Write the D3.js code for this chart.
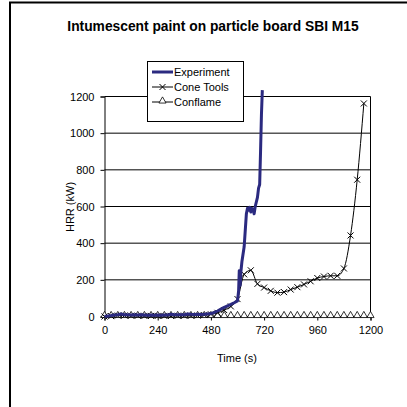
<!DOCTYPE html>
<html>
<head>
<meta charset="utf-8">
<script src="https://cdn.jsdelivr.net/npm/d3@7/dist/d3.min.js"></script>
<style>
  html, body { margin: 0; padding: 0; background: #fff; }
  svg { display: block; font-family: "Liberation Sans", Arial, sans-serif; }
</style>
</head>
<body>
<svg id="chart" width="407" height="407"></svg>
<script>
// Heat release rate, intumescent paint on particle board (SBI test M15)
const chartTitle = "Intumescent paint on particle board SBI M15";
const xTicks = [0, 240, 480, 720, 960, 1200];
const yTicks = [0, 200, 400, 600, 800, 1000, 1200];

// Measured HRR (kW) vs time (s)
const expTime = [0, 15, 30, 45, 60, 75, 90, 105, 120, 135, 150, 165, 180, 195, 210, 225, 240, 255, 270, 285,
  300, 315, 330, 345, 360, 375, 390, 405, 420, 435, 450, 465, 480, 495, 510, 525, 540, 555, 570, 585,
  600, 605, 608, 612, 615, 620, 630, 640, 645, 650, 655, 660, 665, 670, 675, 680, 690, 695, 700, 704, 708, 712];
const expHRR = [0, 3, 5, 8, 10, 14, 10, 9, 8, 9, 8, 9, 8, 7, 8, 7, 8, 7, 8, 8,
  12, 10, 9, 10, 10, 14, 12, 11, 12, 11, 12, 14, 16, 22, 30, 40, 50, 58, 66, 75,
  85, 140, 250, 170, 240, 300, 380, 560, 590, 580, 595, 570, 590, 585, 560, 600, 650, 700, 720, 900, 1100, 1235];

// Cone Tools prediction
const coneTime = [0, 30, 60, 90, 120, 150, 180, 210, 240, 270, 300, 330, 360, 390, 420, 450, 480, 510, 540, 570,
  600, 630, 660, 690, 720, 750, 780, 810, 840, 870, 900, 930, 960, 990, 1020, 1050, 1080, 1110, 1140, 1170];
const coneHRR = [0, 2, 5, 5, 4, 4, 3, 3, 3, 3, 3, 4, 4, 4, 5, 8, 12, 20, 35, 55,
  95, 230, 252, 178, 158, 140, 130, 133, 147, 160, 175, 192, 210, 218, 222, 222, 262, 442, 746, 1162];

// Conflame prediction
const flameTime = d3.range(0, 1201, 30);
const flameHRR = flameTime.map(() => 0);

const svg = d3.select("#chart");

// outer chart frame
svg.append("rect").attr("x", 10).attr("y", 2.5).attr("width", 420).attr("height", 420)
  .attr("fill", "none").attr("stroke", "#000").attr("stroke-width", 2);

const x = d3.scaleLinear().domain([0, 1200]).range([104.5, 370.5]);
const y = d3.scaleLinear().domain([0, 1200]).range([316.5, 96.5]);

// title
svg.append("text").attr("x", 213).attr("y", 31).attr("text-anchor", "middle")
  .attr("font-size", 13.8).attr("font-weight", "bold").text(chartTitle);

// gridlines
svg.append("g").selectAll("line").data(yTicks.filter(d => d > 0)).join("line")
  .attr("x1", x(0)).attr("x2", x(1200)).attr("y1", d => y(d)).attr("y2", d => y(d))
  .attr("stroke", "#000").attr("stroke-width", 1);

// right border of plot area
svg.append("line").attr("x1", x(1200)).attr("x2", x(1200)).attr("y1", y(1200)).attr("y2", y(0))
  .attr("stroke", "#000").attr("stroke-width", 1);

// axes
const fmt = d3.format("d");
const yAxis = svg.append("g").attr("transform", `translate(${x(0)},0)`)
  .call(d3.axisLeft(y).tickValues(yTicks).tickFormat(fmt).tickSize(4).tickPadding(6));
const xAxis = svg.append("g").attr("transform", `translate(0,${y(0)})`)
  .call(d3.axisBottom(x).tickValues(xTicks).tickFormat(fmt).tickSize(4).tickPadding(6));
[xAxis, yAxis].forEach(a => {
  a.selectAll("text").attr("font-size", 11).attr("fill", "#000")
    .attr("font-family", "'Liberation Sans', Arial, sans-serif");
  a.selectAll("line, path").attr("stroke", "#000");
});

// axis titles
svg.append("text").attr("x", 237).attr("y", 362).attr("text-anchor", "middle")
  .attr("font-size", 11).text("Time (s)");
svg.append("text").attr("transform", `translate(74,207) rotate(-90)`).attr("text-anchor", "middle")
  .attr("font-size", 11).text("HRR (kW)");

const line = d3.line().x(d => x(d[0])).y(d => y(d[1]));

const flamePts = flameTime.map((t, i) => [t, flameHRR[i]]);
const conePts = coneTime.map((t, i) => [t, coneHRR[i]]);
const expPts = expTime.map((t, i) => [t, expHRR[i]]);

const triPath = d3.symbol().type(d3.symbolTriangle).size(22)();
const crossPath = "M-3,-3L3,3M-3,3L3,-3";

// Conflame
svg.append("path").attr("d", line(flamePts)).attr("fill", "none").attr("stroke", "#000").attr("stroke-width", 1);
svg.append("g").selectAll("path").data(flamePts).join("path")
  .attr("transform", d => `translate(${x(d[0])},${y(d[1]) - 1})`)
  .attr("d", triPath).attr("fill", "#fff").attr("stroke", "#000").attr("stroke-width", 0.8);

// Cone Tools
svg.append("path").attr("d", line.curve(d3.curveMonotoneX)(conePts)).attr("fill", "none")
  .attr("stroke", "#000").attr("stroke-width", 1);
line.curve(d3.curveLinear);
svg.append("g").selectAll("path").data(conePts).join("path")
  .attr("transform", d => `translate(${x(d[0])},${y(d[1])})`)
  .attr("d", crossPath).attr("fill", "none").attr("stroke", "#000").attr("stroke-width", 1);

// Experiment
svg.append("path").attr("d", line(expPts)).attr("fill", "none")
  .attr("stroke", "#2b2a80").attr("stroke-width", 3).attr("stroke-linejoin", "round");

// legend
const lg = svg.append("g");
lg.append("rect").attr("x", 147.5).attr("y", 61.5).attr("width", 96).attr("height", 60)
  .attr("fill", "#fff").attr("stroke", "#000").attr("stroke-width", 1);
const legendItems = ["Experiment", "Cone Tools", "Conflame"];
legendItems.forEach((name, i) => {
  const cy = 72 + i * 15;
  const g = lg.append("g");
  if (i === 0) {
    g.append("line").attr("x1", 152).attr("x2", 173).attr("y1", cy).attr("y2", cy)
      .attr("stroke", "#2b2a80").attr("stroke-width", 3);
  } else {
    g.append("line").attr("x1", 152).attr("x2", 173).attr("y1", cy).attr("y2", cy)
      .attr("stroke", "#000").attr("stroke-width", 1);
    g.append("path").attr("transform", `translate(162.5,${i === 2 ? cy - 1 : cy})`)
      .attr("d", i === 1 ? crossPath : triPath).attr("fill", "#fff").attr("stroke", "#000")
      .attr("stroke-width", i === 1 ? 1 : 0.8);
  }
  g.append("text").attr("x", 174).attr("y", cy + 4).attr("font-size", 11).text(name);
});
</script>
</body>
</html>
